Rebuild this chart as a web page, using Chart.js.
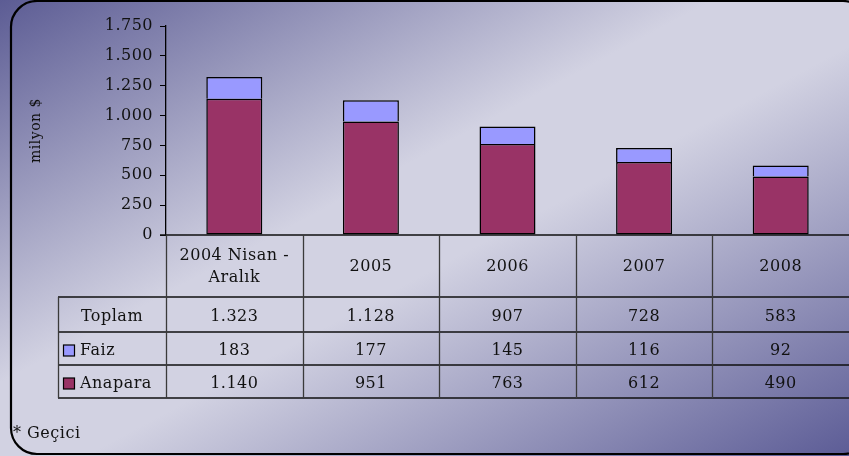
<!DOCTYPE html>
<html>
<head>
<meta charset="utf-8">
<script src="https://cdn.jsdelivr.net/npm/chart.js@4"></script>
<style>
  body { margin: 0; background: #fff; }
  canvas { display: block; }
</style>
</head>
<body>
<canvas id="c" width="849" height="456"></canvas>
<script>
// debt payments chart - stacked bars with a data table under them

// categories (header row of the table), split into lines
const CATEGORIES = [['2004 Nisan -', 'Aralık'], ['2005'], ['2006'], ['2007'], ['2008']];

// series values (milyon $)
const FAIZ = [183, 177, 145, 116, 92];
const ANAPARA = [1140, 951, 763, 612, 490];
const TOPLAM = [1323, 1128, 907, 728, 583];

// y axis range
const Y_MAX = 1750;
const Y_STEP = 250;

// colors
const COLOR_ANAPARA = '#993366';
const COLOR_FAIZ = '#9999ff';
const COLOR_TEXT = '#111111';

const FONT = '"DejaVu Serif", "Liberation Serif", serif';
const FONT_SIZE = 16;

// 1323 -> "1.323"
function formatNumber(num) {
    return String(num).replace(/\B(?=(\d{3})+(?!\d))/g, '.');
}

// the letters in the picture are spaced out a bit
function setSpacing(ctx) {
    ctx.letterSpacing = '0.5px';
}

// gradient background and the rounded frame
const backgroundPlugin = {
    id: 'background',
    beforeLayout: function(chart) {
        setSpacing(chart.ctx);
    },
    beforeDraw: function(chart) {
        const ctx = chart.ctx;
        const w = chart.width;
        const h = chart.height;
        ctx.save();
        const grad = ctx.createLinearGradient(0, 0, 380, 708);
        grad.addColorStop(0, '#5c5c94');
        grad.addColorStop(0.42, '#d2d2e2');
        grad.addColorStop(0.55, '#d2d2e2');
        grad.addColorStop(1, '#5c5c96');
        ctx.fillStyle = grad;
        ctx.fillRect(0, 0, w, h);

        // frame runs off the right edge of the picture
        ctx.beginPath();
        ctx.roundRect(11, 1, 858, 453, 26);
        ctx.lineWidth = 2.2;
        ctx.strokeStyle = '#000';
        ctx.stroke();
        ctx.restore();
        setSpacing(ctx);
    }
};

// the data table under the bars
const tablePlugin = {
    id: 'dataTable',
    afterDraw: function(chart) {
        const ctx = chart.ctx;
        const xs = chart.scales.x;
        const area = chart.chartArea;
        const colW = xs.width / CATEGORIES.length;

        const top = area.bottom;
        const rowLines = [top + 62, top + 97, top + 130, top + 163];
        const leftCol = 58;

        ctx.save();
        setSpacing(ctx);

        // horizontal lines
        ctx.strokeStyle = '#111';
        ctx.lineWidth = 1.4;
        ctx.beginPath();
        ctx.moveTo(area.left - 6, top);
        ctx.lineTo(area.right, top);
        for (let i = 0; i < rowLines.length; i++) {
            ctx.moveTo(leftCol, rowLines[i]);
            ctx.lineTo(area.right, rowLines[i]);
        }
        ctx.stroke();

        // vertical lines
        ctx.strokeStyle = '#3a3a3a';
        ctx.lineWidth = 1.3;
        ctx.beginPath();
        for (let i = 0; i < CATEGORIES.length; i++) {
            const x = Math.round(xs.getPixelForValue(i) - colW / 2) + 0.5;
            ctx.moveTo(x, top);
            ctx.lineTo(x, rowLines[3]);
        }
        ctx.moveTo(leftCol + 0.5, rowLines[0]);
        ctx.lineTo(leftCol + 0.5, rowLines[3]);
        ctx.stroke();

        // header row
        ctx.fillStyle = COLOR_TEXT;
        ctx.font = FONT_SIZE + 'px ' + FONT;
        ctx.textAlign = 'center';
        ctx.textBaseline = 'middle';
        const headerMid = (top + rowLines[0]) / 2 + 1;
        for (let i = 0; i < CATEGORIES.length; i++) {
            const x = xs.getPixelForValue(i);
            const lines = CATEGORIES[i];
            for (let j = 0; j < lines.length; j++) {
                const y = headerMid + (j - (lines.length - 1) / 2) * 22;
                ctx.fillText(lines[j], x, y);
            }
        }

        // value rows
        const rows = [
            { label: 'Toplam', values: TOPLAM, color: null },
            { label: 'Faiz', values: FAIZ, color: COLOR_FAIZ },
            { label: 'Anapara', values: ANAPARA, color: COLOR_ANAPARA }
        ];
        for (let r = 0; r < rows.length; r++) {
            const mid = (rowLines[r] + rowLines[r + 1]) / 2;
            const y = mid + 2;
            const row = rows[r];
            ctx.textAlign = 'center';
            for (let i = 0; i < row.values.length; i++) {
                ctx.fillText(formatNumber(row.values[i]), xs.getPixelForValue(i), y);
            }
            if (row.color === null) {
                ctx.fillText(row.label, (leftCol + area.left) / 2, y);
            } else {
                // little legend box
                ctx.fillStyle = row.color;
                ctx.fillRect(63.5, mid - 3.5, 11, 11);
                ctx.strokeStyle = '#000';
                ctx.lineWidth = 1.2;
                ctx.strokeRect(63.5, mid - 3.5, 11, 11);
                ctx.fillStyle = COLOR_TEXT;
                ctx.textAlign = 'left';
                ctx.fillText(row.label, 80, y);
            }
        }

        // footnote
        ctx.textAlign = 'left';
        ctx.textBaseline = 'alphabetic';
        ctx.fillText('* Geçici', 13, 438);
        ctx.restore();
    }
};

const ctx = document.getElementById('c').getContext('2d');

new Chart(ctx, {
    type: 'bar',
    data: {
        labels: CATEGORIES.map(function(l) { return l.join(' '); }),
        datasets: [
            {
                label: 'Anapara',
                data: ANAPARA,
                backgroundColor: COLOR_ANAPARA,
                borderColor: '#000',
                borderWidth: 1.5,
                borderSkipped: false
            },
            {
                label: 'Faiz',
                data: FAIZ,
                backgroundColor: COLOR_FAIZ,
                borderColor: '#000',
                borderWidth: 1.5,
                borderSkipped: 'start'
            }
        ]
    },
    options: {
        responsive: false,
        animation: false,
        devicePixelRatio: 1,
        layout: {
            padding: { left: 0, right: 0, top: 26, bottom: 221 }
        },
        datasets: {
            bar: { categoryPercentage: 1, barPercentage: 0.41 }
        },
        plugins: {
            legend: { display: false },
            tooltip: { enabled: false }
        },
        scales: {
            x: {
                stacked: true,
                display: false
            },
            y: {
                stacked: true,
                min: 0,
                max: Y_MAX,
                afterFit: function(scale) { scale.width = 166; },
                ticks: {
                    stepSize: Y_STEP,
                    color: COLOR_TEXT,
                    padding: 7,
                    font: { family: FONT, size: FONT_SIZE },
                    callback: function(v) { return formatNumber(v); }
                },
                grid: {
                    drawOnChartArea: false,
                    color: '#000',
                    tickLength: 6
                },
                border: { display: true, color: '#000', width: 1.3 },
                title: {
                    display: true,
                    text: 'milyon $',
                    color: COLOR_TEXT,
                    font: { family: FONT, size: 14 },
                    padding: { top: 28, bottom: 0 }
                }
            }
        }
    },
    plugins: [backgroundPlugin, tablePlugin]
});
</script>
</body>
</html>
